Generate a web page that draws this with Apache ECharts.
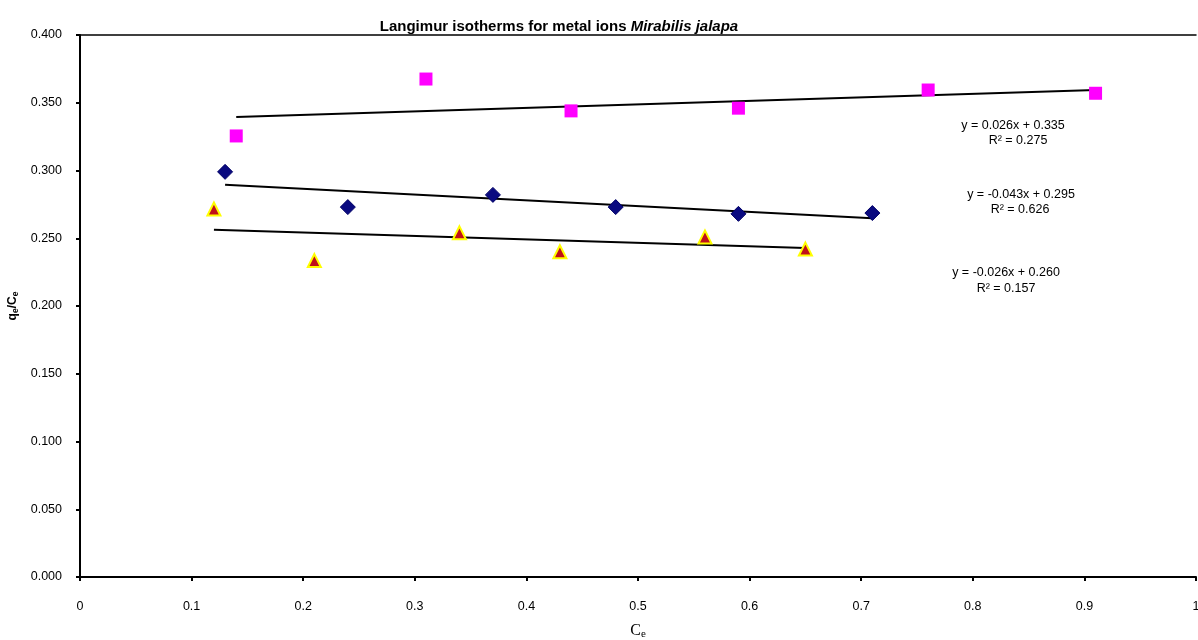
<!DOCTYPE html>
<html>
<head>
<meta charset="utf-8">
<script src="https://cdn.jsdelivr.net/npm/echarts@6/dist/echarts.min.js"></script>
<style>
  html, body { margin: 0; padding: 0; background: #fff; }
  #main { width: 1198px; height: 640px; }
</style>
</head>
<body>
<div id="main"></div>
<script>
// values
const xTicks = [0, 0.1, 0.2, 0.3, 0.4, 0.5, 0.6, 0.7, 0.8, 0.9, 1];

const squareX = [0.14, 0.31, 0.44, 0.59, 0.76, 0.91];
const squareY = [0.3255, 0.3675, 0.344, 0.346, 0.3594, 0.357];

const diamondX = [0.13, 0.24, 0.37, 0.48, 0.59, 0.71];
const diamondY = [0.299, 0.273, 0.282, 0.273, 0.268, 0.2686];

const triangleX = [0.12, 0.21, 0.34, 0.43, 0.56, 0.65];
const triangleY = [0.2716, 0.2335, 0.254, 0.240, 0.251, 0.242];

// trendline end points
const trendSquare = [[0.14, 0.3395], [0.91, 0.3595]];
const trendDiamond = [[0.13, 0.2895], [0.71, 0.2648]];
const trendTriangle = [[0.12, 0.2562], [0.65, 0.2428]];

const equations = [
    ['y = 0.026x + 0.335', 'R² = 0.275'],
    ['y = -0.043x + 0.295', 'R² = 0.626'],
    ['y = -0.026x + 0.260', 'R² = 0.157']
];

function pairs(xs, ys) {
    return xs.map((x, i) => [x, ys[i]]);
}

function trend(pts) {
    return {
        type: 'line',
        data: pts,
        symbol: 'none',
        lineStyle: { color: '#000', width: 2 },
        z: 1,
        silent: true
    };
}

const font = 'Arial, "Liberation Sans", sans-serif';

function eqText(i, x, y1, y2) {
    return [
        { type: 'text', x: x[0], y: y1, style: { text: equations[i][0], font: '12.5px ' + font, fill: '#000', align: 'center', verticalAlign: 'middle' } },
        { type: 'text', x: x[1], y: y2, style: { text: equations[i][1], font: '12.5px ' + font, fill: '#000', align: 'center', verticalAlign: 'middle' } }
    ];
}

const option = {
    animation: false,
    backgroundColor: '#fff',
    title: {
        text: '{a|Langimur isotherms for metal ions }{b|Mirabilis jalapa}',
        left: 554,
        top: 14,
        textAlign: 'center',
        textStyle: {
            rich: {
                a: { fontFamily: font, fontWeight: 'bold', fontSize: 15, color: '#000' },
                b: { fontFamily: font, fontWeight: 'bold', fontStyle: 'italic', fontSize: 15, color: '#000' }
            }
        }
    },
    grid: {
        left: 80, right: 2, top: 35, bottom: 63,
        outerBoundsMode: 'none',
        containLabel: false
    },
    xAxis: [{
        type: 'value',
        min: 0, max: 1, interval: 0.1,
        name: '{c|C}{s|e}',
        nameLocation: 'middle',
        nameGap: 44,
        nameTextStyle: {
            rich: {
                c: { fontFamily: '"Liberation Serif", "Times New Roman", serif', fontSize: 16, color: '#000' },
                s: { fontFamily: '"Liberation Serif", "Times New Roman", serif', fontSize: 11, color: '#000', padding: [8, 0, 0, 0] }
            }
        },
        axisLine: { lineStyle: { color: '#000', width: 2 } },
        axisTick: { show: true, length: 4, lineStyle: { color: '#000', width: 2 } },
        splitLine: { show: false },
        axisLabel: {
            margin: 23,
            color: '#000',
            fontFamily: font,
            fontSize: 12.5,
            formatter: v => {
                const r = Math.round(v * 10) / 10;
                return xTicks.indexOf(r) >= 0 ? String(r) : '';
            }
        }
    }, {
        // top frame line
        type: 'value',
        position: 'top',
        min: 0, max: 1,
        axisLine: { show: true, lineStyle: { color: '#000', width: 1.5 } },
        axisTick: { show: false },
        axisLabel: { show: false },
        splitLine: { show: false }
    }],
    yAxis: {
        type: 'value',
        min: 0, max: 0.4, interval: 0.05,
        name: '{q|q}{s|e}{q|/C}{s|e}',
        nameLocation: 'middle',
        nameRotate: 90,
        nameGap: 50,
        nameTextStyle: {
            rich: {
                q: { fontFamily: font, fontWeight: 'bold', fontSize: 12, color: '#000' },
                s: { fontFamily: font, fontWeight: 'bold', fontSize: 8.5, color: '#000', padding: [5, 0, 0, 0] }
            }
        },
        axisLine: { show: true, lineStyle: { color: '#000', width: 2 } },
        axisTick: { show: true, length: 4, lineStyle: { color: '#000', width: 2 } },
        splitLine: { show: false },
        axisLabel: {
            margin: 18,
            color: '#000',
            fontFamily: font,
            fontSize: 12.5,
            formatter: v => v.toFixed(3)
        }
    },
    series: [
        trend(trendSquare),
        trend(trendDiamond),
        trend(trendTriangle),
        {
            type: 'scatter',
            data: pairs(squareX, squareY),
            symbol: 'rect',
            symbolSize: 13,
            itemStyle: { color: '#ff00ff', opacity: 1 },
            z: 3
        },
        {
            type: 'scatter',
            data: pairs(diamondX, diamondY),
            symbol: 'diamond',
            symbolSize: 15,
            itemStyle: { color: '#0a0a80', borderColor: '#000066', borderWidth: 1, opacity: 1 },
            z: 3
        },
        {
            type: 'scatter',
            data: pairs(triangleX, triangleY),
            symbol: 'triangle',
            symbolSize: 13,
            itemStyle: { color: '#c0101a', borderColor: '#ffff00', borderWidth: 2, opacity: 1 },
            z: 3
        }
    ],
    graphic: [].concat(
        eqText(0, [1013, 1018], 126, 141),
        eqText(1, [1021, 1020], 195, 210),
        eqText(2, [1006, 1006], 273, 289)
    )
};

let plot = echarts.init(document.querySelector('#main'));
plot.setOption(option);
</script>
</body>
</html>
